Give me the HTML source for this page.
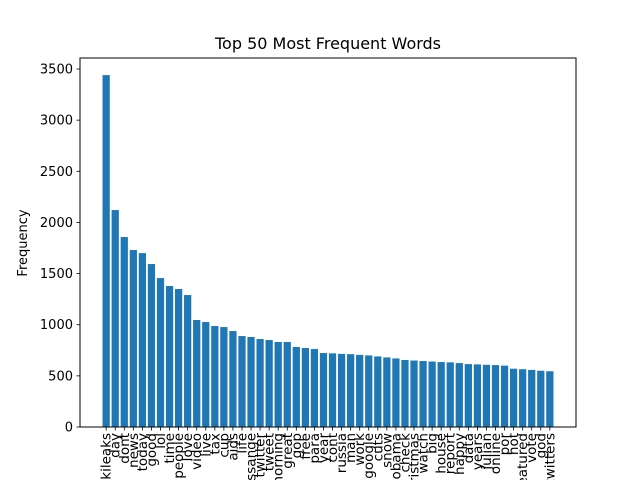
<!DOCTYPE html>
<html><head><meta charset="utf-8"><style>
body{margin:0;background:#fff;font-family:"DejaVu Sans","Liberation Sans",sans-serif;}
svg{display:block}
</style></head><body>
<svg id="chart" width="640" height="480" xmlns="http://www.w3.org/2000/svg">
<rect width="640" height="480" fill="#fff"/>
<text x="328" y="49" text-anchor="middle" font-size="16" fill="#000">Top 50 Most Frequent Words</text>
<text transform="translate(27,243) rotate(-90)" text-anchor="middle" font-size="13" fill="#000">Frequency</text>
<g id="bars"></g>
<g id="xticks"></g>
<g id="yticks"></g>
<rect x="80" y="58" width="496" height="369" fill="none" stroke="#000" stroke-width="1"/>
</svg>
<script>
const categories = ["wikileaks","day","dont","news","today","good","lol","time","people","love","video","live","tax","cup","aids","life","assange","twitter","tweet","morning","great","gop","free","para","year","cont","russia","man","work","google","cuts","snow","obama","check","christmas","watch","big","house","report","happy","data","years","julian","online","por","hot","featured","vote","god","twitters"];
const values = [3440,2121,1857,1730,1700,1593,1456,1378,1349,1290,1046,1026,987,977,938,889,880,860,850,831,831,782,772,762,723,720,715,712,705,700,690,680,670,655,650,645,640,635,632,625,615,612,608,605,600,570,565,558,550,545];
const yTicks = [0,500,1000,1500,2000,2500,3000,3500];

const NS="http://www.w3.org/2000/svg";
const L=80,R=576,T=58,B=427;
const xmin=-2.89,xmax=51.89;
const yScale=v=>B-v*(358/3500);
const xScale=i=>L+(i-xmin)/(xmax-xmin)*(R-L);
const bw=0.8*(R-L)/(xmax-xmin);
function mk(tag,attrs,parent){const e=document.createElementNS(NS,tag);for(const k in attrs)e.setAttribute(k,attrs[k]);parent.appendChild(e);return e;}
const gb=document.getElementById('bars'),gx=document.getElementById('xticks'),gy=document.getElementById('yticks');
values.forEach((v,i)=>{
  const r=mk('rect',{x:xScale(i)-bw/2,y:yScale(v),width:bw,height:B-yScale(v),fill:'#1f77b4'},gb);
  
  
});
categories.forEach((c,i)=>{
  const x=xScale(i);
  const t=mk('line',{x1:x,x2:x,y1:B,y2:B+3.5,stroke:'#000','stroke-width':0.8},gx);
  
  
  const tx=mk('text',{transform:`translate(${x+4.5},${B+6}) rotate(-90)`,'text-anchor':'end','font-size':13.5,fill:'#000'},gx);
  tx.textContent=c;
  
  
});
yTicks.forEach(v=>{
  const y=yScale(v);
  const t=mk('line',{x1:L-3.5,x2:L,y1:y,y2:y,stroke:'#000','stroke-width':0.8},gy);
  
  
  const tx=mk('text',{x:L-7,y:y+4.5,'text-anchor':'end','font-size':13,fill:'#000'},gy);
  tx.textContent=v;
  
  
});
</script>
</body></html>
